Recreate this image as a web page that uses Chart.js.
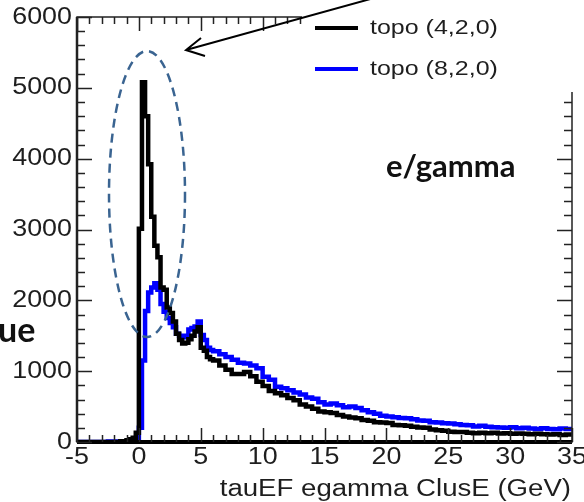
<!DOCTYPE html>
<html>
<head>
<meta charset="utf-8">
<script src="https://cdn.jsdelivr.net/npm/chart.js@4"></script>
<style>
  body { margin: 0; background: #fff; }
  #wrap { width: 584px; height: 502px; }
</style>
</head>
<body>
<div id="wrap"><canvas id="histChart" width="584" height="502"></canvas></div>
<script>
// bin edges (GeV): 0.5 wide in the tails, 0.25 around the peak
const binEdges = [
  -5, -4.5, -4, -3.5, -3, -2.5, -2, -1.5,
  -1, -0.75, -0.5, -0.25, 0, 0.25, 0.5, 0.75, 1, 1.25, 1.5, 1.75, 2, 2.25, 2.5, 2.75,
  3, 3.25, 3.5, 3.75, 4, 4.25, 4.5, 4.75, 5, 5.25, 5.5, 5.75,
  6, 6.5, 7, 7.5, 8, 8.5, 9, 9.5, 10, 10.5, 11, 11.5, 12, 12.5, 13, 13.5, 14, 14.5,
  15, 15.5, 16, 16.5, 17, 17.5, 18, 18.5, 19, 19.5, 20, 20.5, 21, 21.5, 22, 22.5,
  23, 23.5, 24, 24.5, 25, 25.5, 26, 26.5, 27, 27.5, 28, 28.5, 29, 29.5, 30, 30.5,
  31, 31.5, 32, 32.5, 33, 33.5, 34, 34.5, 35
];

const topo420 = [
  0, 0, 0, 0, 0, 0, 0, 10,
  25, 40, 60, 130, 3010, 5080, 4600, 3920, 3180, 2770, 2610, 2180, 2150, 1900, 1820, 1700,
  1530, 1440, 1390, 1400, 1450, 1500, 1560, 1620, 1330, 1290, 1200, 1170,
  1150, 1080, 1020, 960, 960, 990, 930, 850, 790, 720, 690, 660, 620, 590, 530, 500, 470, 430,
  420, 410, 380, 360, 345, 335, 310, 300, 280, 275, 270, 240, 235, 230, 215, 205,
  200, 175, 165, 160, 145, 140, 140, 130, 125, 130, 125, 130, 120, 125, 115, 120,
  115, 110, 115, 110, 105, 110, 100, 105
];

const topo820 = [
  0, 0, 0, 0, 0, 8, 8, 0,
  0, 0, 0, 10, 200, 1150, 1850, 2110, 2180, 2240, 2150, 1950, 1840, 1750, 1680, 1620,
  1530, 1500, 1480, 1500, 1590, 1610, 1630, 1700, 1510, 1440, 1330, 1300,
  1280, 1240, 1200, 1160, 1120, 1110, 1080, 1040, 920, 880, 780, 760, 730, 700, 670, 630, 610, 560,
  530, 545, 520, 490, 500, 480, 450, 420, 400, 370, 360, 350, 340, 335, 320, 305,
  300, 280, 275, 265, 260, 250, 240, 235, 220, 230, 215, 210, 205, 200, 210, 195,
  200, 190, 185, 195, 185, 180, 190, 185
];

const seriesNames = ['topo (4,2,0)', 'topo (8,2,0)'];
const seriesColors = ['#000000', '#0000ff'];

const xTicks = [-5, 0, 5, 10, 15, 20, 25, 30, 35];
const yTicks = [0, 1000, 2000, 3000, 4000, 5000, 6000];
const xTitle = 'tauEF egamma ClusE (GeV)';

// each value sits at its bin's lower edge, last edge repeats the last bin
function toSteps(values) {
  return binEdges.map((e, i) => ({ x: e, y: values[Math.min(i, values.length - 1)] }));
}

function stretchText(ctx, text, x, y, align, sx) {
  ctx.save();
  ctx.translate(x, y);
  ctx.scale(sx, 1);
  ctx.textAlign = align;
  ctx.fillText(text, 0, 0);
  ctx.restore();
}

const rootFrame = {
  id: 'rootFrame',
  afterDraw(chart) {
    const ctx = chart.ctx;
    const a = chart.chartArea;
    const xs = chart.scales.x, ys = chart.scales.y;

    ctx.save();
    ctx.strokeStyle = '#222';
    ctx.lineWidth = 1.5;
    ctx.strokeRect(a.left, a.top, a.right - a.left, a.bottom - a.top);
    ctx.lineWidth = 2.5;
    ctx.beginPath();
    ctx.moveTo(a.left, a.top); ctx.lineTo(a.left, a.bottom);
    ctx.stroke();
    ctx.strokeStyle = '#000';
    ctx.lineWidth = 4;
    ctx.beginPath();
    ctx.moveTo(a.left, a.bottom); ctx.lineTo(a.right, a.bottom);
    ctx.stroke();

    // y ticks, pointing inward on both sides
    ctx.strokeStyle = '#222';
    ctx.lineWidth = 1.5;
    ctx.beginPath();
    for (let v = 0; v <= 6000; v += 200) {
      const y = Math.round(ys.getPixelForValue(v)) + 0.5;
      const len = v % 1000 === 0 ? 15 : 8;
      ctx.moveTo(a.left, y); ctx.lineTo(a.left + len, y);
      ctx.moveTo(a.right, y); ctx.lineTo(a.right - len, y);
    }
    // x ticks
    for (let v = -5; v <= 35; v += 1) {
      const x = Math.round(xs.getPixelForValue(v)) + 0.5;
      const len = v % 5 === 0 ? 14 : 7;
      ctx.moveTo(x, a.bottom); ctx.lineTo(x, a.bottom - len);
      ctx.moveTo(x, a.top); ctx.lineTo(x, a.top + len);
    }
    ctx.stroke();

    // tick labels
    ctx.fillStyle = '#1e1e1e';
    ctx.font = '24px "Liberation Sans", Arial, sans-serif';
    ctx.textBaseline = 'middle';
    yTicks.forEach(v => stretchText(ctx, String(v), a.left - 5, ys.getPixelForValue(v), 'right', 1.12));
    xTicks.forEach(v => stretchText(ctx, String(v), xs.getPixelForValue(v), a.bottom + 15, 'center', 1.12));
    ctx.textBaseline = 'alphabetic';
    ctx.font = '23px "Liberation Sans", Arial, sans-serif';
    stretchText(ctx, xTitle, a.right - 1, 496, 'right', 1.2);

    // legend box over the top right corner
    ctx.fillStyle = '#fff';
    ctx.fillRect(302, 0, 282, 92);
    ctx.textBaseline = 'middle';
    ctx.font = '20px "Liberation Sans", Arial, sans-serif';
    seriesNames.forEach((name, i) => {
      const y = 28 + i * 41;
      ctx.strokeStyle = seriesColors[i];
      ctx.lineWidth = 4;
      ctx.beginPath();
      ctx.moveTo(315, y); ctx.lineTo(358, y);
      ctx.stroke();
      ctx.fillStyle = '#1e1e1e';
      stretchText(ctx, name, 370, y, 'left', 1.25);
    });

    // dashed ellipse around the peak
    ctx.strokeStyle = '#3a6491';
    ctx.lineWidth = 2.5;
    ctx.setLineDash([9, 6]);
    ctx.beginPath();
    ctx.ellipse(147, 194, 38, 143, 0, 0, Math.PI * 2);
    ctx.stroke();
    ctx.setLineDash([]);

    // arrow pointing at the ellipse
    ctx.strokeStyle = '#000';
    ctx.lineWidth = 2;
    ctx.beginPath();
    ctx.moveTo(374, -2); ctx.lineTo(186, 50);
    ctx.moveTo(201, 38); ctx.lineTo(186, 50); ctx.lineTo(205, 56);
    ctx.stroke();

    // slide annotations
    ctx.fillStyle = '#111';
    ctx.font = 'bold 31px Lato, "Open Sans", sans-serif';
    ctx.textBaseline = 'alphabetic';
    ctx.textAlign = 'left';
    ctx.fillText('e/gamma', 386, 177);
    ctx.font = 'bold 34px Lato, "Open Sans", sans-serif';
    ctx.fillText('ue', -2, 342);
    ctx.restore();
  }
};

new Chart(document.getElementById('histChart'), {
  type: 'line',
  data: {
    datasets: [
      { label: seriesNames[0], data: toSteps(topo420), borderColor: seriesColors[0] },
      { label: seriesNames[1], data: toSteps(topo820), borderColor: seriesColors[1] }
    ]
  },
  options: {
    responsive: false,
    animation: false,
    layout: { padding: { left: 77, top: 17, right: 12, bottom: 60 } },
    elements: {
      line: { borderWidth: 4.5, stepped: true, tension: 0, fill: false, borderJoinStyle: 'miter' },
      point: { radius: 0, hoverRadius: 0 }
    },
    plugins: { legend: { display: false }, tooltip: { enabled: false } },
    scales: {
      x: { type: 'linear', min: -5, max: 35, display: false },
      y: { type: 'linear', min: 0, max: 6000, display: false }
    }
  },
  plugins: [rootFrame]
});
</script>
</body>
</html>
